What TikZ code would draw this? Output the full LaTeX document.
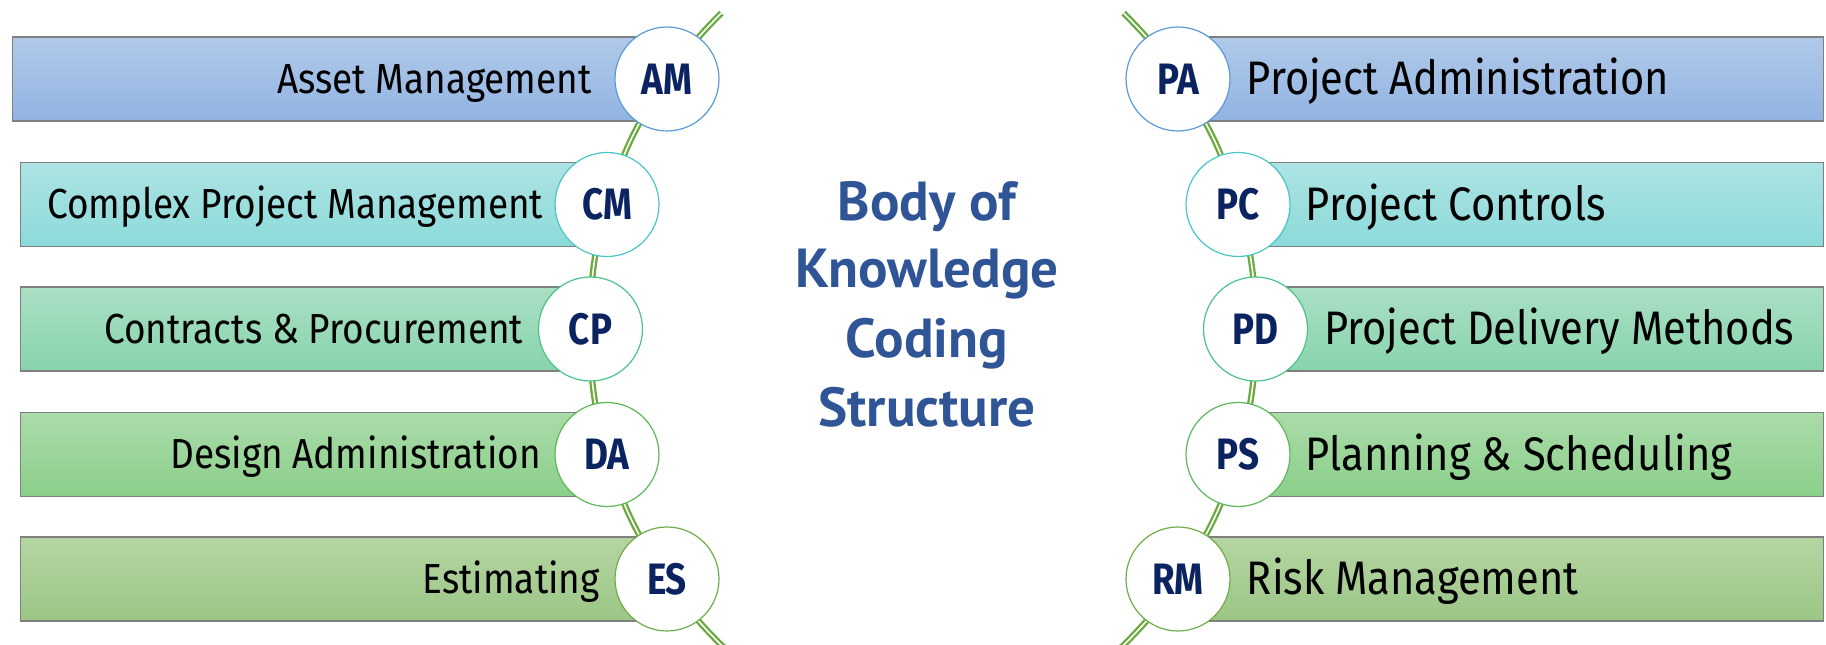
\documentclass[tikz,border=0pt]{standalone}
\usepackage{fontspec}
\setmainfont{PT Sans}
\newfontfamily\barfont{Fira Sans}[FakeStretch=0.88]
\newfontfamily\rbarfont{Fira Sans}[FakeStretch=0.886]
\newfontfamily\labfont{Fira Sans}[FakeStretch=0.835]
\usetikzlibrary{backgrounds}
\definecolor{barline}{HTML}{7F7F7F}
\definecolor{blueTop}{HTML}{B0C9E9}
\definecolor{blueBot}{HTML}{92B4E2}
\definecolor{blueRing}{HTML}{5B9BD5}
\definecolor{cyanTop}{HTML}{AEE3E3}
\definecolor{cyanBot}{HTML}{8CDADA}
\definecolor{cyanRing}{HTML}{4BC6C6}
\definecolor{mintTop}{HTML}{AADFC4}
\definecolor{mintBot}{HTML}{88D4AC}
\definecolor{mintRing}{HTML}{4CC38A}
\definecolor{grnTop}{HTML}{AADBA9}
\definecolor{grnBot}{HTML}{8BCF8A}
\definecolor{grnRing}{HTML}{5DB85B}
\definecolor{olvTop}{HTML}{B5D5A2}
\definecolor{olvBot}{HTML}{9CC686}
\definecolor{olvRing}{HTML}{70AD47}
\definecolor{lineGreen}{HTML}{6AAA3E}
\definecolor{navy}{HTML}{0B2461}
\definecolor{titleBlue}{HTML}{2F5597}
\begin{document}
\begin{tikzpicture}[x=1pt,y=1pt,
  bar/.style={draw=barline, line width=1.2pt, minimum height=84pt, inner sep=0pt},
  ring/.style={circle, fill=white, line width=1.2pt, minimum size=104pt, inner sep=0pt,
    font=\labfont\fontsize{44}{46}\selectfont\bfseries, text=navy},
  ltext/.style={anchor=base east, inner sep=0pt, text=black, font=\barfont\fontsize{42}{44}\selectfont},
  rtext/.style={anchor=base west, inner sep=0pt, text=black, font=\rbarfont\fontsize{47}{50}\selectfont},
  ttext/.style={anchor=base, inner sep=0pt, text=titleBlue, font=\fontsize{55}{60}\selectfont\bfseries},
  curve/.style={draw=lineGreen, line width=2.3pt, double=white, double distance=1.6pt}]
\useasboundingbox (0,0) rectangle (1826,645);

% bars, left
\node[bar, top color=blueTop, bottom color=blueBot, minimum width=655pt, anchor=west] (AMbar) at (12,566) {};
\node[bar, top color=cyanTop, bottom color=cyanBot, minimum width=587.5pt, anchor=west] (CMbar) at (19.5,440.5) {};
\node[bar, top color=mintTop, bottom color=mintBot, minimum width=571pt, anchor=west] (CPbar) at (19.5,316) {};
\node[bar, top color=grnTop, bottom color=grnBot, minimum width=587.5pt, anchor=west] (DAbar) at (19.5,190.5) {};
\node[bar, top color=olvTop, bottom color=olvBot, minimum width=647.5pt, anchor=west] (ESbar) at (19.5,66) {};
% bars, right
\node[bar, top color=blueTop, bottom color=blueBot, minimum width=646pt, anchor=east] (PAbar) at (1824,566) {};
\node[bar, top color=cyanTop, bottom color=cyanBot, minimum width=586pt, anchor=east] (PCbar) at (1824,440.5) {};
\node[bar, top color=mintTop, bottom color=mintBot, minimum width=568.5pt, anchor=east] (PDbar) at (1824,316) {};
\node[bar, top color=grnTop, bottom color=grnBot, minimum width=586pt, anchor=east] (PSbar) at (1824,190.5) {};
\node[bar, top color=olvTop, bottom color=olvBot, minimum width=646pt, anchor=east] (RMbar) at (1824,66) {};

% circles
\node[ring, draw=blueRing] (AM) at (667,566) {AM};
\node[ring, draw=cyanRing] (CM) at (607,440.5) {CM};
\node[ring, draw=mintRing] (CP) at (590.5,316) {CP};
\node[ring, draw=grnRing] (DA) at (607,190.5) {DA};
\node[ring, draw=olvRing] (ES) at (667,66) {ES};
\node[ring, draw=blueRing] (PA) at (1178,566) {PA};
\node[ring, draw=cyanRing] (PC) at (1238,440.5) {PC};
\node[ring, draw=mintRing] (PD) at (1255.5,316) {PD};
\node[ring, draw=grnRing] (PS) at (1238,190.5) {PS};
\node[ring, draw=olvRing] (RM) at (1178,66) {RM};

% curved connectors
\coordinate (Ltop) at (721.4,631.9);
\coordinate (Lbot) at (726.9,-5.4);
\coordinate (Rtop) at (1123.6,631.9);
\coordinate (Rbot) at (1118.1,-5.4);
\begin{scope}[on background layer]
\draw[curve] (Ltop) to[bend right=5.5] (AM.center) to[bend right=9] (CM.center)
  to[bend right=8] (CP.center) to[bend right=8] (DA.center)
  to[bend right=9] (ES.center) to[bend right=6] (Lbot);
\draw[curve] (Rtop) to[bend left=5.5] (PA.center) to[bend left=9] (PC.center)
  to[bend left=8] (PD.center) to[bend left=8] (PS.center)
  to[bend left=9] (RM.center) to[bend left=6] (Rbot);
\end{scope}

% texts, left
\node[ltext] (AMt) at ([xshift=-22.5pt,yshift=-14.5pt]AM.west) {Asset Management};
\node[ltext] (CMt) at ([xshift=-11pt,yshift=-14.5pt]CM.west) {Complex Project Management};
\node[ltext] (CPt) at ([xshift=-14.5pt,yshift=-14.5pt]CP.west) {Contracts \& Procurement};
\node[ltext] (DAt) at ([xshift=-13.3pt,yshift=-14.5pt]DA.west) {Design Administration};
\node[ltext] (ESt) at ([xshift=-14.5pt,yshift=-14.5pt]ES.west) {Estimating};
% texts, right
\node[rtext] (PAt) at ([xshift=16pt,yshift=-16pt]PA.east) {Project Administration};
\node[rtext] (PCt) at ([xshift=15pt,yshift=-16pt]PC.east) {Project Controls};
\node[rtext] (PDt) at ([xshift=16pt,yshift=-16pt]PD.east) {Project Delivery Methods};
\node[rtext] (PSt) at ([xshift=15pt,yshift=-16pt]PS.east) {Planning \& Scheduling};
\node[rtext] (RMt) at ([xshift=16pt,yshift=-16pt]RM.east) {Risk Management};

% title
\node[ttext] (T1) at (927,424) {Body of};
\node[ttext] (T2) at (927,357) {Knowledge};
\node[ttext] (T3) at (927,287) {Coding};
\node[ttext] (T4) at (927,218) {Structure};
\end{tikzpicture}
\end{document}
